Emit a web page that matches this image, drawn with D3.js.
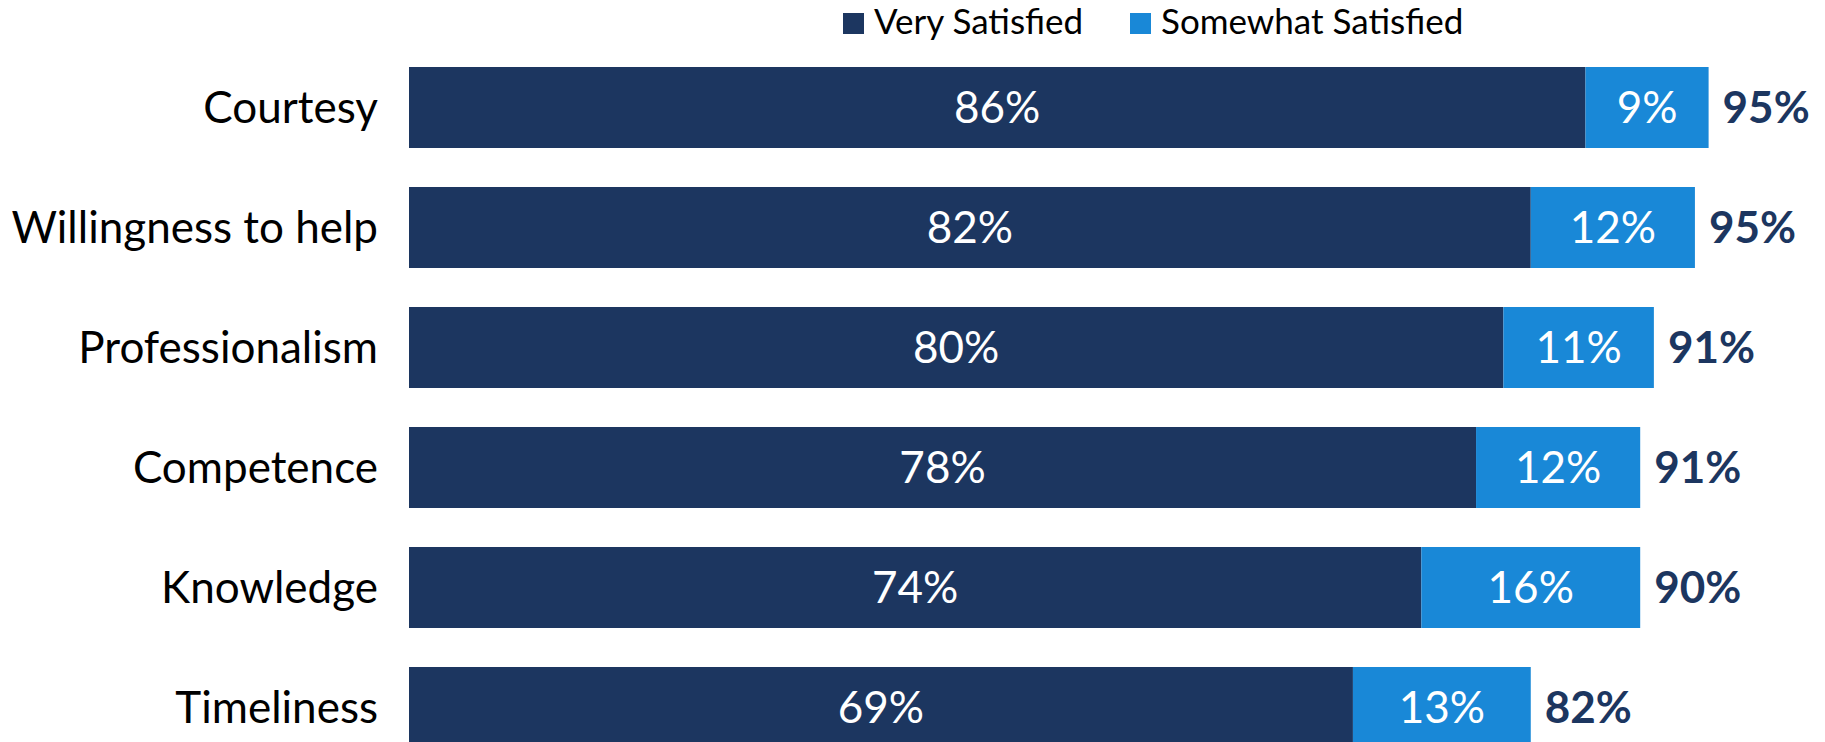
<!DOCTYPE html>
<html><head><meta charset="utf-8">
<script src="https://cdn.jsdelivr.net/npm/d3@7"></script>
<style>html,body{margin:0;padding:0;background:#fff;overflow:hidden}</style>
</head><body>
<svg id="c" width="1825" height="742"></svg>
<script>
const categories = ["Courtesy","Willingness to help","Professionalism","Competence","Knowledge","Timeliness"];
const verySatisfied = [86,82,80,78,74,69];
const somewhatSatisfied = [9,12,11,12,16,13];
const totals = [95,95,91,91,90,82];
const seriesNames = ["Very Satisfied","Somewhat Satisfied"];
const colors = ["#1c3660","#1988d7"];

const font = "Lato, 'Open Sans', sans-serif";
const svg = d3.select("#c");
const x = d3.scaleLinear().domain([0,100]).range([409,1777]);
const y = d3.scaleBand().domain(categories).range([67,748]).paddingInner(0.325).paddingOuter(0);

const data = categories.map((c,i)=>({c, v:verySatisfied[i], s:somewhatSatisfied[i], t:totals[i]}));
const g = svg.append("g");

g.selectAll(".vs").data(data).join("rect")
  .attr("x", x(0)).attr("y", d=>y(d.c)).attr("height", y.bandwidth())
  .attr("width", d=>x(d.v)-x(0)).attr("fill", colors[0]);
g.selectAll(".ss").data(data).join("rect")
  .attr("x", d=>x(d.v)).attr("y", d=>y(d.c)).attr("height", y.bandwidth())
  .attr("width", d=>x(d.v+d.s)-x(d.v)).attr("fill", colors[1]);

const fs = 44;
g.selectAll(".lv").data(data).join("text")
  .attr("x", d=>(x(0)+x(d.v))/2).attr("y", d=>y(d.c)+y.bandwidth()/2)
  .attr("dy","0.35em").attr("text-anchor","middle").attr("fill","#fff")
  .style("font-family",font).style("font-size",fs+"px").text(d=>d.v+"%");
g.selectAll(".ls").data(data).join("text")
  .attr("x", d=>(x(d.v)+x(d.v+d.s))/2).attr("y", d=>y(d.c)+y.bandwidth()/2)
  .attr("dy","0.35em").attr("text-anchor","middle").attr("fill","#fff")
  .style("font-family",font).style("font-size",fs+"px").text(d=>d.s+"%");
g.selectAll(".lt").data(data).join("text")
  .attr("x", d=>x(d.v+d.s)+14).attr("y", d=>y(d.c)+y.bandwidth()/2)
  .attr("dy","0.35em").attr("text-anchor","start").attr("fill",colors[0])
  .style("font-family",font).style("font-size",fs+"px").style("font-weight","bold").text(d=>d.t+"%");

// category axis
const yAxis = d3.axisLeft(y).tickSize(0).tickPadding(31);
const ax = svg.append("g").attr("transform",`translate(${x(0)},0)`).call(yAxis);
ax.select(".domain").remove();
ax.selectAll("text").style("font-family",font).style("font-size",fs+"px").attr("fill","#000").attr("dy","0.35em");

// legend
const lx = [843,1130];
const leg = svg.append("g");
seriesNames.forEach((n,i)=>{
  leg.append("rect").attr("x",lx[i]).attr("y",13).attr("width",21).attr("height",21).attr("fill",colors[i]);
  leg.append("text").attr("x",lx[i]+31).attr("y",34)
    .style("font-family",font).style("font-size","35px").attr("fill","#000").text(n);
});
</script>
</body></html>
